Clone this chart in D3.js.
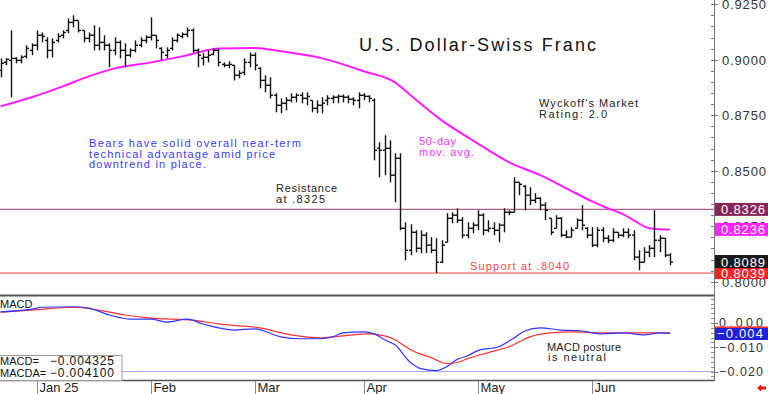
<!DOCTYPE html>
<html><head><meta charset="utf-8">
<script src="https://cdn.jsdelivr.net/npm/d3@7"></script>
<style>html,body{margin:0;padding:0;background:#fff;overflow:hidden}text{font-family:"Liberation Sans","DejaVu Sans",Arial,sans-serif}</style>
</head><body><svg id="c" width="768" height="394"></svg>
<script>
// ---------- DATA ----------
const startDate = "2024-12-20", endDate = "2025-06-23";
const holidays = ["2024-12-25", "2025-01-01"];
const monthLabels = ["Jan 25", "Feb", "Mar", "Apr", "May", "Jun"];
const open = [0.8952,0.8988,0.8997,0.9006,0.8997,0.9015,0.9042,0.9065,0.9110,0.9087,
0.9042,0.9087,0.9110,0.9132,0.9168,0.9177,0.9132,0.9096,0.9110,0.9065,
0.9078,0.9065,0.9042,0.9078,0.9042,0.9020,0.9042,0.9065,0.9087,0.9101,
0.9110,0.9051,0.9020,0.9051,0.9087,0.9105,0.9114,0.9132,0.9042,0.9006,
0.9011,0.9024,0.9042,0.8979,0.8975,0.8975,0.8930,0.8943,0.8988,0.9020,
0.8961,0.8907,0.8885,0.8840,0.8795,0.8804,0.8817,0.8831,0.8840,0.8826,
0.8817,0.8781,0.8795,0.8817,0.8826,0.8831,0.8835,0.8831,0.8822,0.8817,
0.8840,0.8835,0.8817,0.8601,0.8592,0.8601,0.8480,0.8556,0.8241,0.8142,
0.8223,0.8151,0.8210,0.8165,0.8142,0.8088,0.8178,0.8286,0.8300,0.8277,
0.8210,0.8241,0.8255,0.8300,0.8232,0.8241,0.8232,0.8255,0.8313,0.8313,
0.8448,0.8430,0.8390,0.8367,0.8376,0.8345,0.8286,0.8241,0.8286,0.8210,
0.8201,0.8241,0.8277,0.8241,0.8210,0.8165,0.8232,0.8196,0.8187,0.8223,
0.8210,0.8223,0.8210,0.8111,0.8088,0.8133,0.8151,0.8187,0.8196,0.8120];
const high = [0.9006,0.9006,0.9132,0.9011,0.9020,0.9065,0.9074,0.9132,0.9123,0.9101,
0.9096,0.9119,0.9132,0.9186,0.9200,0.9177,0.9132,0.9123,0.9155,0.9146,
0.9110,0.9074,0.9101,0.9087,0.9074,0.9051,0.9087,0.9101,0.9110,0.9191,
0.9110,0.9056,0.9056,0.9101,0.9119,0.9123,0.9146,0.9141,0.9051,0.9029,
0.9042,0.9051,0.9051,0.8988,0.8993,0.8975,0.8952,0.9006,0.9033,0.9033,
0.8966,0.8930,0.8921,0.8849,0.8826,0.8831,0.8849,0.8849,0.8853,0.8853,
0.8817,0.8817,0.8831,0.8840,0.8840,0.8844,0.8844,0.8840,0.8831,0.8853,
0.8849,0.8840,0.8826,0.8628,0.8660,0.8637,0.8579,0.8579,0.8268,0.8259,
0.8232,0.8232,0.8223,0.8201,0.8196,0.8187,0.8309,0.8313,0.8331,0.8291,
0.8268,0.8268,0.8322,0.8309,0.8277,0.8268,0.8264,0.8331,0.8322,0.8471,
0.8448,0.8435,0.8426,0.8399,0.8381,0.8358,0.8286,0.8300,0.8291,0.8232,
0.8246,0.8286,0.8345,0.8246,0.8246,0.8246,0.8246,0.8210,0.8241,0.8223,
0.8241,0.8241,0.8232,0.8142,0.8156,0.8165,0.8322,0.8210,0.8196,0.8129];
const low = [0.8921,0.8975,0.8831,0.8984,0.8984,0.9006,0.9020,0.9042,0.9078,0.9006,
0.9011,0.9078,0.9096,0.9119,0.9146,0.9123,0.9078,0.9078,0.9042,0.9042,
0.9042,0.8966,0.9020,0.9006,0.8966,0.9011,0.9033,0.9056,0.9074,0.9087,
0.9051,0.8997,0.9006,0.9042,0.9078,0.9096,0.9101,0.9033,0.8966,0.8975,
0.8988,0.9020,0.8970,0.8966,0.8961,0.8907,0.8916,0.8930,0.8966,0.8952,
0.8871,0.8853,0.8826,0.8763,0.8759,0.8772,0.8808,0.8808,0.8804,0.8795,
0.8763,0.8759,0.8759,0.8795,0.8804,0.8804,0.8808,0.8804,0.8795,0.8781,
0.8817,0.8808,0.8547,0.8471,0.8480,0.8448,0.8358,0.8232,0.8097,0.8120,
0.8133,0.8129,0.8129,0.8129,0.8039,0.8084,0.8178,0.8264,0.8264,0.8196,
0.8196,0.8219,0.8232,0.8210,0.8223,0.8210,0.8178,0.8223,0.8300,0.8313,
0.8390,0.8322,0.8345,0.8354,0.8322,0.8277,0.8210,0.8241,0.8201,0.8196,
0.8201,0.8241,0.8232,0.8196,0.8156,0.8156,0.8178,0.8174,0.8178,0.8196,
0.8201,0.8196,0.8097,0.8052,0.8088,0.8111,0.8111,0.8133,0.8111,0.8075];
const close = [0.8984,0.9002,0.9006,0.8997,0.9011,0.9051,0.9065,0.9110,0.9105,0.9042,
0.9078,0.9105,0.9123,0.9168,0.9177,0.9132,0.9096,0.9110,0.9065,0.9078,
0.9065,0.9042,0.9078,0.9042,0.9020,0.9042,0.9065,0.9087,0.9101,0.9110,
0.9087,0.9033,0.9042,0.9087,0.9110,0.9114,0.9132,0.9042,0.9020,0.9011,
0.9020,0.9042,0.8988,0.8975,0.8979,0.8930,0.8939,0.8988,0.9020,0.8975,
0.8907,0.8885,0.8840,0.8795,0.8804,0.8817,0.8831,0.8840,0.8826,0.8835,
0.8781,0.8795,0.8804,0.8826,0.8831,0.8835,0.8831,0.8822,0.8817,0.8840,
0.8835,0.8826,0.8592,0.8592,0.8601,0.8480,0.8556,0.8241,0.8142,0.8223,
0.8151,0.8210,0.8165,0.8142,0.8088,0.8165,0.8286,0.8300,0.8277,0.8210,
0.8241,0.8255,0.8300,0.8232,0.8241,0.8232,0.8255,0.8313,0.8313,0.8448,
0.8439,0.8390,0.8367,0.8376,0.8345,0.8322,0.8223,0.8286,0.8210,0.8201,
0.8232,0.8277,0.8255,0.8210,0.8165,0.8232,0.8196,0.8187,0.8223,0.8210,
0.8223,0.8210,0.8111,0.8088,0.8133,0.8151,0.8187,0.8196,0.8120,0.8089];
// 50-day moving average (read at bar positions)
const maIdx = [0,6,12,17,22,29,35,39,42,49,54,62,70,76,79,85,91,98,104,109,114,117,120,122,125,127,129];
const maVal = [0.8790,0.8831,0.8880,0.8925,0.8961,0.8988,0.9015,0.9038,0.9051,0.9053,0.9038,0.9006,0.8948,0.8898,0.8840,0.8727,0.8637,0.8538,0.8480,0.8421,0.8362,0.8331,0.8304,0.8277,0.8241,0.8237,0.8236];
// MACD (blue) and MACDA signal (red)
const macdIdx = [0,6,8,14,17,21,25,29,32,36,39,45,49,54,58,61,64,66,70,72,74,76,79,81,84,86,88,90,92,96,99,101,104,108,112,116,120,124,127,129];
const macdVal = [0.0046,0.0057,0.0065,0.0067,0.0061,0.0033,0.0016,0.0016,0.0004,0.0016,-0.0004,-0.0029,-0.0024,-0.0057,-0.0065,-0.0065,-0.0057,-0.0041,-0.0037,-0.0045,-0.0069,-0.0090,-0.0163,-0.0188,-0.0196,-0.0180,-0.0150,-0.0135,-0.0114,-0.0098,-0.0061,-0.0033,-0.0020,-0.0029,-0.0033,-0.0045,-0.0041,-0.0049,-0.0041,-0.0043];
const sigIdx = [0,6,14,19,24,29,37,42,50,56,62,66,71,74,76,79,83,86,88,90,94,98,102,106,110,116,123,129];
const sigVal = [0.0045,0.0053,0.0065,0.0053,0.0033,0.0020,0.0012,-0.0004,-0.0020,-0.0049,-0.0061,-0.0053,-0.0045,-0.0053,-0.0069,-0.0110,-0.0143,-0.0167,-0.0163,-0.0147,-0.0122,-0.0098,-0.0057,-0.0041,-0.0037,-0.0041,-0.0041,-0.0041];
const priceTicks = [0.8000,0.8250,0.8500,0.8750,0.9000,0.9250];
const macdTicks = [0.000,-0.010,-0.020];
const resistance = 0.8326, support = 0.8039;
const lastMA = 0.8236, lastClose = 0.8089, supportLabel = 0.8039;
const macdLast = -0.004325, macdaLast = -0.004100;

// ---------- SCALES ----------
const parse = d3.utcParse("%Y-%m-%d"), fmtD = d3.utcFormat("%Y-%m-%d");
const dates = d3.utcDay.range(parse(startDate), d3.utcDay.offset(parse(endDate),1))
  .filter(d => d.getUTCDay()!==0 && d.getUTCDay()!==6 && !holidays.includes(fmtD(d)));
const idx = d3.range(dates.length);
const x = d3.scaleLinear().domain([0, dates.length-1]).range([0.5, 670]);
const y = d3.scaleLinear().domain([0.80, 0.925]).range([281.8, 4.2]);
const ym = d3.scaleLinear().domain([-0.020, 0]).range([371.5, 323]);

const svg = d3.select("#c");
svg.append("rect").attr("width",768).attr("height",394).attr("fill","#fff");

function txt(g, xx, yy, s, w, size, color, anchor){
  const t = g.append("text").attr("x",xx).attr("y",yy).text(s)
    .attr("font-size",size).attr("fill",color);
  if (w) t.attr("textLength",w).attr("lengthAdjust","spacing");
  if (anchor) t.attr("text-anchor",anchor);
  return t;
}

// ---------- MAIN PANEL ----------
const main = svg.append("g");
main.append("line").attr("x1",0).attr("x2",714).attr("y1",y(resistance)).attr("y2",y(resistance))
  .attr("stroke","#b06088").attr("stroke-width",1.2);
main.append("line").attr("x1",0).attr("x2",714).attr("y1",y(support)).attr("y2",y(support))
  .attr("stroke","#ff9090").attr("stroke-width",1.6);

main.append("path").datum(maIdx.map((d,i)=>[d,maVal[i]]))
  .attr("d", d3.line().x(d=>x(d[0])).y(d=>y(d[1])).curve(d3.curveMonotoneX))
  .attr("fill","none").attr("stroke","#ff1aff").attr("stroke-width",2);

const bars = main.append("g").attr("stroke","#111").attr("stroke-width",1.4);
idx.forEach(i=>{
  const cx = Math.round(x(i))+0.5;
  bars.append("line").attr("x1",cx).attr("x2",cx).attr("y1",y(high[i])).attr("y2",y(low[i]));
  bars.append("line").attr("x1",cx-2.5).attr("x2",cx).attr("y1",y(open[i])).attr("y2",y(open[i]));
  bars.append("line").attr("x1",cx).attr("x2",cx+2.5).attr("y1",y(close[i])).attr("y2",y(close[i]));
});

// annotations
txt(main, 359, 51, "U.S. Dollar-Swiss Franc", 237, 18, "#111");
txt(main, 539, 107, "Wyckoff's Market", 99, 11, "#222");
txt(main, 539, 118, "Rating: 2.0", 68, 11, "#222");
txt(main, 419, 145, "50-day", 37, 11, "#ff33ff");
txt(main, 419, 156, "mov. avg.", 55, 11, "#ff33ff");
txt(main, 89, 147, "Bears have solid overall near-term", 212, 11, "#3a3aff");
txt(main, 89, 158, "technical advantage amid price", 186, 11, "#3a3aff");
txt(main, 89, 168, "downtrend in place.", 117, 11, "#3a3aff");
txt(main, 276, 192, "Resistance", 61, 11, "#222");
txt(main, 276, 203, "at .8325", 49, 11, "#222");
txt(main, 470, 270, "Support at .8040", 99, 11, "#ff4444");

// separators / axes
svg.append("line").attr("x1",0).attr("x2",714).attr("y1",295.5).attr("y2",295.5).attr("stroke","#555").attr("stroke-width",2);
svg.append("line").attr("x1",0).attr("x2",714).attr("y1",380.5).attr("y2",380.5).attr("stroke","#555").attr("stroke-width",1.5);
svg.append("line").attr("x1",714.5).attr("x2",714.5).attr("y1",0).attr("y2",381).attr("stroke","#777").attr("stroke-width",1);

// price axis
const ax = svg.append("g");
d3.range(0.800, 0.9301, 0.005).forEach(v=>{
  ax.append("line").attr("x1",711).attr("x2",714).attr("y1",Math.round(y(v))+0.5).attr("y2",Math.round(y(v))+0.5).attr("stroke","#777");
});
priceTicks.forEach(v=>{
  ax.append("line").attr("x1",714).attr("x2",718).attr("y1",Math.round(y(v))+0.5).attr("y2",Math.round(y(v))+0.5).attr("stroke","#777");
  txt(ax, 722, y(v)+5, d3.format(".4f")(v), 44, 13, "#333");
});
function box(val, yy, color){
  ax.append("rect").attr("x",715).attr("y",yy-6.5).attr("width",53).attr("height",13).attr("fill",color);
  txt(ax, 721, yy+5, d3.format(".4f")(val), 44, 13, "#fff");
}
box(resistance, y(resistance), "#8a2657");
box(lastMA, y(lastMA), "#ff22ff");
box(supportLabel, y(supportLabel)-0.5, "#ff2020");
box(lastClose, y(lastClose)-0.5, "#1a1a1a");

// ---------- MACD PANEL ----------
const mp = svg.append("g");
mp.append("line").attr("x1",0).attr("x2",714).attr("y1",ym(-0.02)).attr("y2",ym(-0.02)).attr("stroke","#a8a8ff").attr("stroke-width",1);
const lineM = d3.line().x(d=>x(d[0])).y(d=>ym(d[1])).curve(d3.curveMonotoneX);
mp.append("path").datum(sigIdx.map((d,i)=>[d,sigVal[i]])).attr("d",lineM).attr("fill","none").attr("stroke","#ff3030").attr("stroke-width",1.2);
mp.append("path").datum(macdIdx.map((d,i)=>[d,macdVal[i]])).attr("d",lineM).attr("fill","none").attr("stroke","#3333ff").attr("stroke-width",1.2);
mp.append("rect").attr("x",0).attr("y",298).attr("width",31).attr("height",11).attr("fill","#fff");
txt(mp, 0, 308, "MACD", null, 11, "#111");
txt(mp, 547, 351, "MACD posture", 74, 11, "#222");
txt(mp, 548, 361, "is neutral", 58, 11, "#222");
mp.append("rect").attr("x",-1).attr("y",355.5).attr("width",123).attr("height",25).attr("fill","#fff").attr("stroke","#999");
txt(mp, 0, 365, "MACD=", null, 11, "#111");
txt(mp, 0, 377, "MACDA=", null, 11, "#111");
txt(mp, 50, 365, d3.format(".6f")(macdLast), 64, 12, "#111");
txt(mp, 50, 377, d3.format(".6f")(macdaLast), 64, 12, "#111");

// MACD axis
d3.range(-0.022, 0.0101, 0.002).forEach(v=>{
  if (ym(v) > 297 && ym(v) < 380) mp.append("line").attr("x1",711).attr("x2",714).attr("y1",Math.round(ym(v))+0.5).attr("y2",Math.round(ym(v))+0.5).attr("stroke","#888");
});
macdTicks.forEach(v=>{
  mp.append("line").attr("x1",714).attr("x2",718).attr("y1",Math.round(ym(v))+0.5).attr("y2",Math.round(ym(v))+0.5).attr("stroke","#777");
  txt(mp, 741, ym(v)+(v===0?3.5:4.5), d3.format(".3f")(v), 44, 12.5, "#333", "middle");
});
mp.append("rect").attr("x",715).attr("y",ym(macdaLast)-6.5).attr("width",53).attr("height",12).attr("fill","#ff3030");
mp.append("rect").attr("x",715).attr("y",ym(macdLast)-5.5).attr("width",53).attr("height",12).attr("fill","#2020dd");
txt(mp, 717, ym(macdLast)+5, d3.format(".3f")(macdLast), 46, 13, "#fff");

// ---------- MONTH AXIS ----------
const xa = svg.append("g");
let mi = 0;
idx.forEach(i=>{
  if (i>0 && dates[i].getUTCMonth() !== dates[i-1].getUTCMonth()){
    const px = Math.round(x(i))+0.5;
    xa.append("line").attr("x1",px).attr("x2",px).attr("y1",381).attr("y2",394).attr("stroke","#888");
    txt(xa, px+2, 392, monthLabels[mi], null, 13, "#222");
    mi++;
  }
});
// red arrow marker
svg.append("path").attr("d","M757,388 L761,384.5 L761,386.5 L766,386.5 L766,389.5 L761,389.5 L761,391.5 Z").attr("fill","#ee1111");
</script></body></html>
